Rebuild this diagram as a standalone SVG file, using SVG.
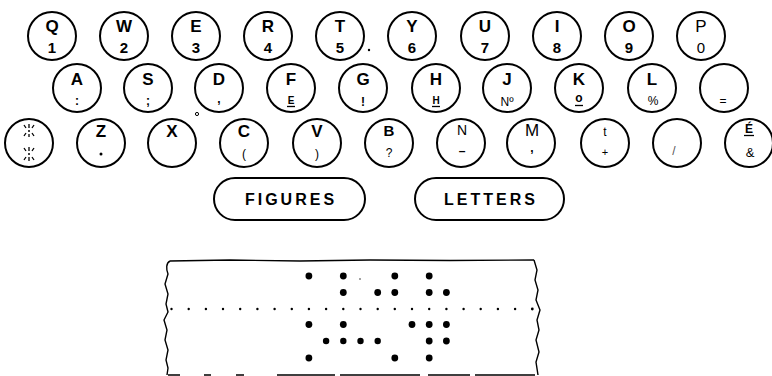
<svg xmlns="http://www.w3.org/2000/svg" width="772" height="376" viewBox="0 0 772 376">
<style>
.k{fill:none;stroke:#000;stroke-width:2}
text{font-family:"Liberation Sans",Arial,sans-serif;fill:#000;text-anchor:middle}
.u{font-size:17px;font-weight:bold}
.d{font-size:15px;font-weight:bold}
.s{font-size:12px;font-weight:bold}
.t{font-size:10px;font-weight:bold}
.ln{stroke:#000;stroke-width:1.3;fill:none}
.h{fill:#000}
.sp{fill:#000}
.pill{fill:none;stroke:#000;stroke-width:2}
.lbl{font-size:16px;font-weight:bold;letter-spacing:3px}
.tape{fill:none;stroke:#000;stroke-width:1.4}
</style>
<rect width="772" height="376" fill="#fff"/>
<!-- Row 1 -->
<g id="key-Q"><circle class="k" cx="52" cy="36" r="24"/><text class="u" x="52" y="32">Q</text><text class="d" x="52" y="53">1</text></g>
<g id="key-W"><circle class="k" cx="124" cy="36" r="24"/><text class="u" x="124" y="32">W</text><text class="d" x="124" y="53">2</text></g>
<g id="key-E"><circle class="k" cx="196" cy="36" r="24"/><text class="u" x="196" y="32">E</text><text class="d" x="196" y="53">3</text></g>
<g id="key-R"><circle class="k" cx="268" cy="36" r="24"/><text class="u" x="268" y="32">R</text><text class="d" x="268" y="53">4</text></g>
<g id="key-T"><circle class="k" cx="340" cy="36" r="24"/><text class="u" x="340" y="32">T</text><text class="d" x="340" y="53">5</text></g>
<g id="key-Y"><circle class="k" cx="412" cy="36" r="24"/><text class="u" x="412" y="32">Y</text><text class="d" x="412" y="53">6</text></g>
<g id="key-U"><circle class="k" cx="485" cy="36" r="24"/><text class="u" x="485" y="32">U</text><text class="d" x="485" y="53">7</text></g>
<g id="key-I"><circle class="k" cx="557" cy="36" r="24"/><text class="u" x="557" y="32">I</text><text class="d" x="557" y="53">8</text></g>
<g id="key-O"><circle class="k" cx="629" cy="36" r="24"/><text class="u" x="629" y="32">O</text><text class="d" x="629" y="53">9</text></g>
<g id="key-P"><circle class="k" cx="701" cy="36" r="24"/><text class="u" x="701" y="32" style="font-weight:normal">P</text><text class="d" x="701" y="53" style="font-weight:normal">0</text></g>
<!-- Row 2 -->
<g id="key-A"><circle class="k" cx="77" cy="88" r="24"/><text class="u" x="77" y="85">A</text><text class="s" x="77" y="105">:</text></g>
<g id="key-S"><circle class="k" cx="148" cy="88" r="24"/><text class="u" x="148" y="85">S</text><text class="s" x="148" y="105">;</text></g>
<g id="key-D"><circle class="k" cx="219" cy="88" r="24"/><text class="u" x="219" y="85">D</text><text class="s" x="219" y="103">,</text></g>
<g id="key-F"><circle class="k" cx="291" cy="88" r="24"/><text class="u" x="291" y="85">F</text><text class="t" x="291" y="104">E</text><line class="ln" x1="287" y1="106.5" x2="295" y2="106.5"/></g>
<g id="key-G"><circle class="k" cx="363" cy="88" r="24"/><text class="u" x="363" y="85">G</text><text class="s" x="363" y="106">!</text></g>
<g id="key-H"><circle class="k" cx="436" cy="88" r="24"/><text class="u" x="436" y="85">H</text><text class="t" x="436" y="104">H</text><line class="ln" x1="432" y1="106.5" x2="440" y2="106.5"/></g>
<g id="key-J"><circle class="k" cx="507" cy="88" r="24"/><text class="u" x="507" y="85">J</text><text class="s" x="507" y="106" style="font-weight:normal">Nº</text></g>
<g id="key-K"><circle class="k" cx="579" cy="88" r="24"/><text class="u" x="579" y="85">K</text><text class="s" x="579" y="102">o</text><line class="ln" x1="575" y1="105.5" x2="583" y2="105.5"/></g>
<g id="key-L"><circle class="k" cx="652" cy="88" r="24"/><text class="u" x="652" y="85">L</text><text class="s" x="653" y="105" style="font-weight:normal">%</text></g>
<g id="key-eq"><circle class="k" cx="724" cy="88" r="24"/><text class="s" x="723" y="105" style="font-weight:normal">=</text></g>
<!-- Row 3 -->
<g id="key-space"><circle class="k" cx="29" cy="143" r="24"/>
<path class="ln" d="M29,124v4M24,125l2,3M34,125l-2,3M24,136l2,-3M34,136l-2,-3M29,134v3M29,147v4M24,148l2,3M34,148l-2,3M24,160l2,-3M34,160l-2,-3M29,157v4"/>
<circle class="h" cx="29" cy="131" r="1"/><circle class="h" cx="29" cy="154" r="1"/></g>
<g id="key-Z"><circle class="k" cx="101" cy="143" r="24"/><text class="u" x="101" y="137">Z</text><circle class="h" cx="101" cy="154" r="1.5"/></g>
<g id="key-X"><circle class="k" cx="172" cy="143" r="24"/><text class="u" x="172" y="137">X</text></g>
<g id="key-C"><circle class="k" cx="244" cy="143" r="24"/><text class="u" x="244" y="137">C</text><text class="s" x="244" y="158" style="font-weight:normal">(</text></g>
<g id="key-V"><circle class="k" cx="317" cy="143" r="24"/><text class="u" x="317" y="137">V</text><text class="s" x="317" y="158" style="font-weight:normal">)</text></g>
<g id="key-B"><circle class="k" cx="389" cy="143" r="24"/><text class="u" x="389" y="136" style="font-size:15px">B</text><text class="s" x="389" y="157" style="font-weight:normal">?</text></g>
<g id="key-N"><circle class="k" cx="461" cy="143" r="24"/><text class="s" x="462" y="135" style="font-size:14px;font-weight:normal">N</text><text class="s" x="462" y="155">–</text></g>
<g id="key-M"><circle class="k" cx="531" cy="143" r="24"/><text class="u" x="532" y="136" style="font-weight:normal">M</text><text class="s" x="532" y="152">,</text></g>
<g id="key-t"><circle class="k" cx="605" cy="143" r="24"/><text class="s" x="605" y="136" style="font-weight:normal">t</text><text class="s" x="605" y="156" style="font-weight:normal;font-size:11px">+</text></g>
<g id="key-slash"><circle class="k" cx="677" cy="143" r="24"/><text class="s" x="674" y="155" style="font-weight:normal;fill:#555">/</text></g>
<g id="key-Eacute"><circle class="k" cx="749" cy="143" r="24"/><text class="s" x="749" y="133">É</text><line class="ln" x1="744" y1="135.5" x2="754" y2="135.5"/><text class="s" x="750" y="157" style="font-size:13px;font-weight:normal">&amp;</text></g>
<!-- shift keys -->
<g id="key-figures"><rect class="pill" x="214" y="178" width="151" height="42" rx="21"/><text class="lbl" x="291" y="205">FIGURES</text></g>
<g id="key-letters"><rect class="pill" x="415" y="178" width="149" height="42" rx="21"/><text class="lbl" x="491" y="205">LETTERS</text></g>
<!-- specks -->
<circle cx="369" cy="50" r="1.2" fill="#000"/>
<circle cx="197" cy="114" r="1.6" fill="none" stroke="#000" stroke-width="1"/>
<!-- tape -->
<g id="tape">
<path class="tape" d="M170,261 L230,260 L300,261 L370,260 L450,260.5 L534,260"/>
<path class="tape" d="M170,261 C166,263 166,269 168,274 L165,284 L168,294 L166,304 L168,312 L164,320 L167,330 L165,340 L168,350 L166,360 L168,368 L167,375"/>
<path class="tape" d="M534,260 L537,270 L535,280 L538,290 L536,300 L540,310 L537,320 L539,330 L536,340 L539,352 L536,362 L538,375"/>
<path class="tape" d="M168,375 H180 M204,375 H211 M236,375 H244 M277,375 H335 M340,375 H420 M428,375 H470 M475,375 H535"/>
<g class="sp">
<circle cx="171.5" cy="309" r="1.2"/><circle cx="188.7" cy="309" r="1.2"/><circle cx="205.9" cy="309" r="1.2"/><circle cx="223.0" cy="309" r="1.2"/><circle cx="240.2" cy="309" r="1.2"/><circle cx="257.4" cy="309" r="1.2"/><circle cx="274.6" cy="309" r="1.2"/><circle cx="291.8" cy="309" r="1.2"/><circle cx="308.9" cy="309" r="1.2"/><circle cx="326.1" cy="309" r="1.2"/><circle cx="343.3" cy="309" r="1.2"/><circle cx="360.5" cy="309" r="1.2"/><circle cx="377.7" cy="309" r="1.2"/><circle cx="394.8" cy="309" r="1.2"/><circle cx="412.0" cy="309" r="1.2"/><circle cx="429.2" cy="309" r="1.2"/><circle cx="446.4" cy="309" r="1.2"/><circle cx="463.6" cy="309" r="1.2"/><circle cx="480.7" cy="309" r="1.2"/><circle cx="497.9" cy="309" r="1.2"/><circle cx="515.1" cy="309" r="1.2"/><circle cx="532.3" cy="309" r="1.4"/>
</g>
<g class="h">
<circle cx="308.9" cy="276" r="3.4"/><circle cx="343.3" cy="276" r="3.4"/><circle cx="394.8" cy="276" r="3.4"/><circle cx="429.2" cy="276" r="3.4"/>
<circle cx="360" cy="279" r="0.7"/>
<circle cx="343.3" cy="292.5" r="3.4"/><circle cx="377.7" cy="292.5" r="3.4"/><circle cx="394.8" cy="292.5" r="3.4"/><circle cx="429.2" cy="292.5" r="3.4"/><circle cx="446.4" cy="292.5" r="3.4"/>
<circle cx="308.9" cy="324.5" r="3.4"/><circle cx="343.3" cy="324.5" r="3.4"/><circle cx="412.0" cy="324.5" r="3.4"/><circle cx="429.2" cy="324.5" r="3.4"/><circle cx="446.4" cy="324.5" r="3.4"/>
<circle cx="326.1" cy="341" r="3.2"/><circle cx="343.3" cy="341" r="3.2"/><circle cx="360.5" cy="341" r="3.2"/><circle cx="377.7" cy="341" r="3.2"/><circle cx="429.2" cy="341" r="3.4"/><circle cx="446.4" cy="341" r="3.4"/>
<circle cx="308.9" cy="358" r="3.4"/><circle cx="394.8" cy="358" r="3.4"/><circle cx="429.2" cy="358" r="3.4"/>
</g>
</g>
</svg>
